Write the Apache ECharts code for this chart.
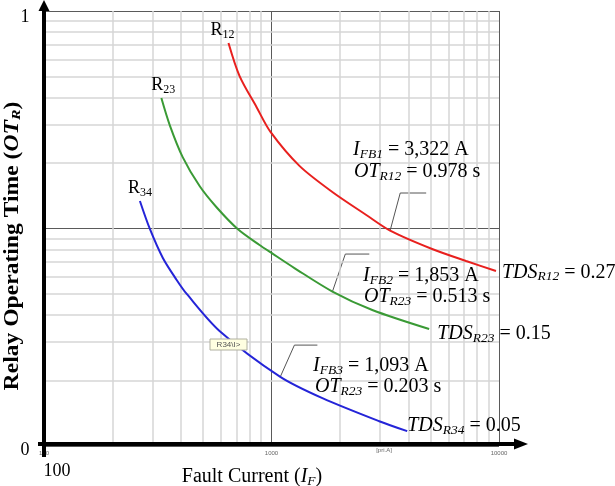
<!DOCTYPE html>
<html>
<head>
<meta charset="utf-8">
<script src="https://cdn.jsdelivr.net/npm/echarts@6/dist/echarts.min.js"></script>
<style>
  html, body { margin: 0; padding: 0; background: #fff; }
  #chart { width: 615px; height: 486px; }
</style>
</head>
<body>
<div id="chart"></div>
<script>
// relay curves (current in A, time in s)
var r12Current = [647, 724, 859, 990, 1327, 1851, 2610, 3322, 5083, 7167, 9700];
var r12Time = [7.13, 5.02, 3.62, 2.78, 1.94, 1.472, 1.154, 0.978, 0.805, 0.709, 0.638];
var r23Current = [328, 357, 407, 483, 572, 710, 886, 1000, 1261, 1853, 2773, 4931];
var r23Time = [3.98, 2.99, 2.13, 1.568, 1.256, 0.995, 0.84, 0.772, 0.658, 0.513, 0.422, 0.345];
var r34Current = [264, 292, 333, 383, 424, 591, 1093, 1674, 2976, 3950];
var r34Time = [1.338, 0.995, 0.732, 0.58, 0.5, 0.338, 0.208, 0.166, 0.13, 0.117];

// minor grid lines
var minorX = [200, 300, 400, 500, 600, 700, 800, 900, 2000, 3000, 4000, 5000, 6000, 7000, 8000, 9000];
var minorY = [0.2, 0.3, 0.4, 0.5, 0.6, 0.7, 0.8, 0.9, 2, 3, 4, 5, 6, 7, 8, 9];

// leader lines to the small tags: [curve point, knee, end of underline]
var tag12 = [[3322, 0.978], [3680, 1.456], [4785, 1.456]];
var tag23 = [[1853, 0.513], [2111, 0.763], [2691, 0.763]];
var tag34 = [[1093, 0.208], [1261, 0.291], [1591, 0.291]];

var serif = '"Liberation Serif", "DejaVu Serif", serif';

function pairs(xs, ys) {
  var out = [];
  for (var i = 0; i < xs.length; i++) out.push([xs[i], ys[i]]);
  return out;
}

var richText = {
  n: { fontFamily: serif, fontSize: 20, color: '#000', lineHeight: 22 },
  i: { fontFamily: serif, fontSize: 20, fontStyle: 'italic', color: '#000', lineHeight: 22 },
  s: { fontFamily: serif, fontSize: 13.5, fontStyle: 'italic', color: '#000', lineHeight: 10, verticalAlign: 'bottom' }
};
var richName = {
  n: { fontFamily: serif, fontSize: 18, color: '#000', lineHeight: 20 },
  u: { fontFamily: serif, fontSize: 12, color: '#000', lineHeight: 9, verticalAlign: 'bottom' }
};

function curve(name, xs, ys, color, sub, nameOffset, tds, endOffset) {
  return {
    name: name, type: 'line', data: pairs(xs, ys), smooth: 0.3, z: 5,
    showSymbol: false, symbol: 'none',
    lineStyle: { color: color, width: 2 },
    itemStyle: { color: color },
    endLabel: {
      show: true, distance: 4, offset: endOffset,
      formatter: '{i|TDS}{s|' + tds[0] + '}{n| = ' + tds[1] + '}', rich: richText
    },
    markPoint: {
      silent: true, animation: false,
      data: [{
        coord: [xs[0], ys[0]], symbol: 'circle', symbolSize: 1,
        itemStyle: { color: 'rgba(0,0,0,0)' },
        label: {
          show: true, position: 'top', distance: 2, offset: nameOffset,
          formatter: '{n|R}{u|' + sub + '}', rich: richName
        }
      }]
    },
    emphasis: { disabled: true },
    animation: false
  };
}

function tag(pts, text) {
  var data = pts.slice();
  data[1] = {
    value: pts[1],
    label: {
      show: true, position: 'right', offset: [-1, -4], distance: 0,
      formatter: text, fontSize: 5, lineHeight: 4, color: '#444', fontFamily: 'Arial'
    }
  };
  return {
    type: 'line', data: data, z: 4, symbol: 'none', showSymbol: false,
    lineStyle: { color: '#555', width: 1 }, animation: false, silent: true
  };
}

var chart = echarts.init(document.getElementById('chart'));
chart.setOption({
  backgroundColor: '#fff',
  animation: false,
  grid: { left: 44, right: 116, top: 11, bottom: 40, outerBoundsMode: 'none', containLabel: false },
  xAxis: {
    type: 'log', logBase: 10, min: 100, max: 10000,
    axisLine: { show: false },
    axisTick: { show: false },
    axisLabel: {
      fontSize: 6, color: '#666', margin: 4, fontFamily: 'Arial',
      formatter: function (v) { return String(v); }
    },
    splitLine: { show: true, lineStyle: { color: '#5a5a5a', width: 1 } }
  },
  yAxis: {
    type: 'log', logBase: 10, min: 0.1, max: 10,
    axisLine: { show: false },
    axisTick: { show: false },
    axisLabel: { show: false },
    splitLine: { show: true, lineStyle: { color: '#5a5a5a', width: 1 } }
  },
  series: [
    {
      type: 'line', data: [], z: 1, silent: true,
      markLine: {
        silent: true, symbol: 'none', animation: false,
        label: { show: false },
        lineStyle: { color: '#d6d6d6', width: 1.5, type: 'solid' },
        data: minorX.map(function (v) { return { xAxis: v }; })
          .concat(minorY.map(function (v) { return { yAxis: v }; }))
      }
    },
    curve('R12', r12Current, r12Time, '#e8201e', '12', [-6, 0], ['R12', '0.27'], [2, 2]),
    curve('R23', r23Current, r23Time, '#3a9a35', '23', [2, 0], ['R23', '0.15'], [4, 5]),
    curve('R34', r34Current, r34Time, '#2424d8', '34', [0, 0], ['R34', '0.05'], [-4, -5]),
    tag(tag12, '3322 A\n0.978 s'),
    tag(tag23, '1853 A\n0.513 s'),
    tag(tag34, '1093 A\n0.203 s')
  ],
  graphic: [
    // thick axes with arrows
    { type: 'line', z: 50, shape: { x1: 44, y1: 457, x2: 44, y2: 8 }, style: { stroke: '#000', lineWidth: 4 } },
    { type: 'polygon', z: 50, shape: { points: [[44, 0], [38.5, 11], [49.5, 11]] }, style: { fill: '#000' } },
    { type: 'line', z: 50, shape: { x1: 38, y1: 444, x2: 516, y2: 444 }, style: { stroke: '#000', lineWidth: 4 } },
    { type: 'polygon', z: 50, shape: { points: [[528, 444], [514, 438.5], [514, 449.5]] }, style: { fill: '#000' } },
    // outside axis text
    { type: 'text', z: 50, x: 25, y: 17, style: { text: '1', font: '18px ' + serif, fill: '#000', align: 'center', verticalAlign: 'middle' } },
    { type: 'text', z: 50, x: 25, y: 450, style: { text: '0', font: '18px ' + serif, fill: '#000', align: 'center', verticalAlign: 'middle' } },
    { type: 'text', z: 50, x: 57, y: 471, style: { text: '100', font: '18px ' + serif, fill: '#000', align: 'center', verticalAlign: 'middle' } },
    { type: 'text', z: 50, x: 384, y: 450, style: { text: '[pri.A]', font: '6px Arial', fill: '#666', align: 'center', verticalAlign: 'middle' } },
    {
      type: 'text', z: 50, x: 252, y: 477,
      style: {
        text: '{n|Fault Current (}{i|I}{s|F}{n|)}', align: 'center', verticalAlign: 'middle',
        rich: {
          n: { fontFamily: serif, fontSize: 20, lineHeight: 22, fill: '#000' },
          i: { fontFamily: serif, fontSize: 20, fontStyle: 'italic', lineHeight: 22, fill: '#000' },
          s: { fontFamily: serif, fontSize: 13.5, fontStyle: 'italic', lineHeight: 10, verticalAlign: 'bottom', fill: '#000' }
        }
      }
    },
    {
      type: 'text', z: 50, x: 13, y: 246, rotation: Math.PI / 2, scaleX: 1.18,
      style: {
        text: '{n|Relay Operating Time (}{i|OT}{s|R}{n|)}', align: 'center', verticalAlign: 'middle',
        rich: {
          n: { fontFamily: serif, fontSize: 20, fontWeight: 'bold', lineHeight: 22, fill: '#000' },
          i: { fontFamily: serif, fontSize: 20, fontWeight: 'bold', fontStyle: 'italic', lineHeight: 22, fill: '#000' },
          s: { fontFamily: serif, fontSize: 13.5, fontWeight: 'bold', fontStyle: 'italic', lineHeight: 10, verticalAlign: 'bottom', fill: '#000' }
        }
      }
    },
    // result annotations
    { type: 'text', z: 50, x: 353, y: 150, style: { text: '{i|I}{s|FB1}{n| = 3,322 A}', rich: richText, verticalAlign: 'middle' } },
    { type: 'text', z: 50, x: 354, y: 172, style: { text: '{i|OT}{s|R12}{n| = 0.978 s}', rich: richText, verticalAlign: 'middle' } },
    { type: 'text', z: 50, x: 363, y: 276, style: { text: '{i|I}{s|FB2}{n| = 1,853 A}', rich: richText, verticalAlign: 'middle' } },
    { type: 'text', z: 50, x: 364, y: 297, style: { text: '{i|OT}{s|R23}{n| = 0.513 s}', rich: richText, verticalAlign: 'middle' } },
    { type: 'text', z: 50, x: 313, y: 366, style: { text: '{i|I}{s|FB3}{n| = 1,093 A}', rich: richText, verticalAlign: 'middle' } },
    { type: 'text', z: 50, x: 315, y: 387, style: { text: '{i|OT}{s|R23}{n| = 0.203 s}', rich: richText, verticalAlign: 'middle' } },
    // hover tag left on the blue curve
    {
      type: 'rect', z: 40, shape: { x: 210, y: 339, width: 37, height: 11 },
      style: { fill: '#ffffe1', stroke: '#b0b0a0', lineWidth: 1 }
    },
    { type: 'text', z: 41, x: 228.5, y: 344.5, style: { text: 'R34\\I>', font: '8px Arial', fill: '#555', align: 'center', verticalAlign: 'middle' } }
  ]
});
</script>
</body>
</html>
